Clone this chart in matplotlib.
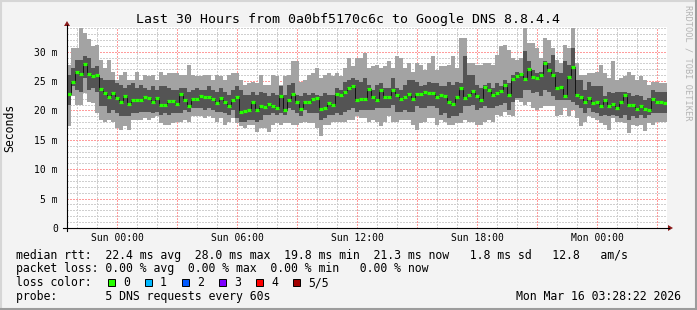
import numpy as np
import pandas as pd
import matplotlib
matplotlib.use('Agg')
import matplotlib.pyplot as plt
import matplotlib.dates as mdates
from matplotlib.lines import Line2D
from matplotlib.patches import Rectangle, Polygon
from matplotlib.ticker import MultipleLocator, FuncFormatter

plt.rcParams['font.family'] = 'DejaVu Sans Mono'

# 150 bins of 12 minutes, Sat 21:30 -> Mon 03:30
edges = pd.date_range('2026-03-14 21:30', periods=151, freq='12min')

# median rtt per bin (ms)
median = [22.8, 24.9, 26.5, 26.2, 27.9, 26.2, 25.8, 26.0, 23.6, 23.0, 22.3, 23.0, 22.1, 21.4, 22.5,
          21.1, 21.8, 21.8, 21.8, 22.3, 22.2, 21.4, 22.2, 20.9, 21.0,
          21.6, 21.6, 21.1, 22.8, 21.8, 20.8, 21.9, 22.0, 22.4, 22.3, 22.3, 22.0, 21.3, 22.2, 21.4,
          20.8, 21.8, 22.3, 19.8, 19.9, 20.1, 21.4, 20.1, 20.8,
          20.6, 21.1, 20.8, 20.5, 22.5, 20.1, 21.8, 22.8, 21.4, 20.3, 21.5, 21.4, 22.0, 22.2, 20.2,
          20.4, 21.3, 20.9, 22.8, 22.6, 23.1, 23.8, 24.1, 21.8, 22.0,
          21.9, 23.6, 22.3, 21.8, 23.4, 22.3, 22.3, 23.4, 22.6, 21.9, 22.3, 22.8, 21.9, 22.8, 22.8,
          23.2, 22.9, 23.0, 22.3, 22.6, 22.4, 21.5, 21.1, 22.3, 23.9,
          22.2, 22.6, 23.3, 22.4, 21.7, 24.0, 23.4, 22.6, 23.0, 23.3, 24.3, 22.6, 25.4, 25.9, 26.2,
          25.3, 27.0, 25.7, 25.6, 26.0, 28.0, 26.9, 26.0, 23.8, 24.0,
          22.5, 25.7, 27.4, 22.6, 22.3, 21.4, 22.2, 21.3, 21.5, 20.8, 21.8, 20.8, 21.1, 20.5, 21.4,
          22.6, 20.9, 21.0, 20.2, 20.8, 20.3, 20.1, 22.0, 21.5, 21.4, 21.3]

# inner smoke (dark grey)
dark_hi = [26.1, 27.2, 28.6, 28.6, 29.2, 28.9, 27.2, 27.5, 25.5, 25.2, 25.2, 25.2, 24.7, 24.4, 23.8,
           24.4, 24.7, 23.8, 24.4, 23.8, 23.5, 24.1, 23.5, 24.1, 24.1,
           23.8, 23.5, 23.5, 23.8, 23.8, 23.2, 23.5, 23.8, 23.5, 23.5, 24.1, 23.5, 23.2, 23.8, 23.2,
           22.7, 23.5, 24.1, 23.5, 22.7, 22.7, 23.2, 22.7, 23.2,
           23.0, 22.4, 23.0, 22.7, 24.1, 22.7, 24.4, 24.7, 22.7, 22.4, 23.0, 22.7, 23.0, 22.7, 22.4,
           23.0, 22.7, 22.7, 23.8, 23.5, 24.9, 25.2, 25.5, 25.2, 24.9,
           25.5, 24.4, 23.5, 24.4, 24.7, 23.8, 23.8, 25.5, 23.8, 23.5, 24.4, 25.2, 25.2, 24.9, 24.1,
           24.4, 24.9, 24.7, 24.7, 24.1, 24.1, 24.9, 24.4, 24.9, 24.7,
           29.2, 26.1, 26.1, 24.4, 23.8, 24.4, 24.7, 23.8, 24.7, 24.1, 25.2, 24.7, 26.1, 26.6, 26.4,
           30.1, 28.4, 26.9, 26.4, 26.6, 28.4, 28.1, 29.5, 26.6, 26.4,
           28.4, 27.8, 30.6, 25.2, 25.2, 23.5, 24.9, 24.1, 24.1, 24.1, 22.4, 23.2, 23.0, 23.2, 23.2,
           23.2, 23.0, 22.4, 22.7, 22.4, 21.8, 22.1, 23.5, 23.2, 23.2, 23.2]
dark_lo = [21.0, 24.1, 23.5, 23.2, 25.5, 23.5, 23.8, 23.2, 20.7, 20.7, 19.5, 20.1, 19.5, 19.0, 19.0,
           19.0, 19.5, 19.5, 19.8, 19.8, 19.8, 19.5, 19.8, 19.3, 19.5,
           19.3, 19.5, 19.5, 19.5, 20.1, 19.8, 20.4, 20.4, 20.4, 20.1, 20.4, 20.1, 19.8, 19.8, 19.5,
           19.3, 20.1, 18.7, 18.1, 18.1, 18.4, 18.4, 18.1, 18.4,
           19.3, 19.3, 19.5, 19.3, 19.5, 19.3, 20.4, 20.1, 19.5, 19.0, 20.1, 19.5, 19.5, 19.5, 18.4,
           18.7, 19.3, 19.3, 19.5, 19.3, 19.8, 20.1, 20.4, 19.8, 20.1,
           20.1, 20.1, 20.1, 20.4, 20.4, 20.4, 20.4, 21.0, 19.8, 19.8, 20.1, 19.8, 19.8, 20.7, 20.4,
           20.4, 20.7, 20.7, 20.4, 19.3, 19.5, 18.7, 19.0, 19.0, 19.5,
           20.7, 20.7, 21.0, 20.1, 20.4, 20.7, 20.4, 20.4, 20.7, 21.0, 21.3, 20.1, 21.5, 22.1, 22.1,
           23.5, 23.5, 23.0, 23.2, 22.4, 23.5, 23.2, 22.4, 21.8, 21.8,
           21.8, 21.8, 21.5, 21.0, 20.4, 19.5, 20.4, 19.8, 19.5, 19.0, 19.3, 19.0, 19.3, 19.0, 18.7,
           19.3, 18.4, 19.0, 18.7, 19.3, 18.7, 19.3, 19.5, 19.5, 19.5, 19.5]

# outer smoke (light grey)
light_hi = [27.8, 30.6, 30.7, 34.0, 33.2, 32.2, 30.9, 31.1, 28.6, 27.2, 28.6, 26.6, 25.2, 26.1, 26.6,
            25.2, 25.2, 26.6, 25.2, 26.1, 25.8, 26.1, 25.2, 26.6, 26.1,
            26.4, 26.4, 26.4, 26.1, 26.1, 27.8, 26.1, 25.8, 25.8, 26.1, 26.1, 25.2, 26.1, 25.8, 25.2,
            26.1, 26.4, 26.4, 25.2, 24.4, 24.7, 24.9, 24.7, 26.1,
            24.4, 24.4, 26.1, 25.8, 24.4, 25.8, 26.1, 28.4, 28.4, 24.9, 25.2, 26.1, 26.4, 27.2, 25.5,
            26.1, 26.4, 25.8, 26.4, 25.8, 27.2, 28.9, 27.5, 28.9, 28.9,
            29.8, 27.2, 27.5, 27.8, 27.2, 27.5, 28.4, 27.2, 29.2, 28.9, 27.2, 28.1, 26.6, 28.1, 27.8,
            26.9, 28.1, 29.2, 26.9, 27.5, 27.5, 27.8, 29.2, 27.2, 32.3,
            32.3, 28.1, 28.1, 27.8, 27.8, 28.1, 28.1, 27.8, 29.5, 30.9, 31.2, 30.3, 28.9, 28.6, 28.9,
            34.0, 31.5, 31.5, 30.6, 28.9, 32.3, 32.0, 30.6, 28.6, 28.1,
            31.2, 30.6, 34.0, 28.1, 26.1, 26.1, 26.4, 26.4, 26.6, 27.8, 26.4, 25.5, 28.4, 25.2, 25.5,
            25.8, 26.6, 26.1, 25.2, 25.8, 25.2, 24.4, 24.9, 24.9, 24.7, 24.7]
light_lo = [17.3, 22.4, 21.0, 21.0, 23.0, 21.5, 21.3, 19.5, 18.4, 18.1, 18.4, 18.1, 17.0, 16.7, 17.3,
            16.7, 18.4, 18.4, 18.4, 18.7, 18.4, 18.7, 19.0, 17.8, 17.6,
            17.6, 17.8, 18.1, 18.1, 18.4, 18.1, 19.0, 19.0, 19.0, 18.7, 19.0, 18.7, 18.1, 18.7, 17.6,
            18.1, 18.7, 17.8, 17.3, 17.0, 17.6, 17.6, 16.4, 17.0,
            17.0, 16.4, 17.6, 17.8, 17.6, 17.8, 17.8, 17.6, 17.6, 17.8, 18.1, 17.8, 17.8, 17.0, 15.6,
            17.6, 17.6, 18.1, 18.1, 18.1, 18.1, 18.4, 18.4, 19.0, 18.7,
            18.7, 18.1, 18.4, 18.1, 17.3, 18.1, 19.0, 18.1, 18.1, 18.4, 18.4, 18.4, 17.6, 16.7, 17.8,
            18.1, 18.7, 18.7, 17.6, 18.4, 18.1, 17.6, 17.6, 17.8, 17.8,
            18.4, 18.1, 18.1, 17.6, 17.6, 18.1, 18.4, 18.1, 19.3, 19.0, 19.8, 19.3, 19.0, 21.8, 21.5,
            21.0, 21.5, 20.4, 20.1, 20.4, 20.7, 20.7, 20.7, 19.0, 19.3,
            20.4, 19.0, 20.1, 18.7, 17.3, 18.1, 19.0, 18.7, 18.4, 17.8, 17.6, 16.7, 18.7, 18.1, 18.1,
            17.8, 16.1, 17.6, 17.3, 17.6, 16.5, 17.8, 17.6, 18.1, 18.1, 18.1]

y_ticks = [0, 5, 10, 15, 20, 25, 30]
title = 'Last 30 Hours from 0a0bf5170c6c to Google DNS 8.8.4.4'
legend_rows = ['median rtt:  22.4 ms avg  28.0 ms max  19.8 ms min  21.3 ms now   1.8 ms sd   12.8   am/s',
               'packet loss: 0.00 % avg  0.00 % max  0.00 % min   0.00 % now']
loss_labels = ['0', '1', '2', '3', '4', '5/5']
loss_colors = ['#26ff00', '#00b8ff', '#0059ff', '#7e00ff', '#ff0000', '#a10000']
probe_row = 'probe:       5 DNS requests every 60s'
stamp = 'Mon Mar 16 03:28:22 2026'

W, H = 697, 310
def fx(px):
    return px / W
def fy(py):
    return 1 - py / H

fig = plt.figure(figsize=(W / 100, H / 100), dpi=100, facecolor='#f3f3f3')
ax = fig.add_axes([fx(67), fy(228), fx(667) - fx(67), fy(27) - fy(228)])
ax.set_facecolor('white')

x = mdates.date2num(edges.to_pydatetime())
def ext(v):
    return np.append(v, v[-1])

ax.fill_between(x, ext(light_lo), ext(light_hi), step='post', color='#a3a3a3', lw=0,
                antialiased=False, zorder=3)
ax.fill_between(x, ext(dark_lo), ext(dark_hi), step='post', color='#545454', lw=0,
                antialiased=False, zorder=3.1)
# median line: dark risers, green loss-colour treads
ax.step(x, ext(median), where='post', color='#111111', lw=0.7, zorder=4)
ax.hlines(median, x[:-1], x[1:], colors='#26ff00', lw=2.3, zorder=5)

ax.set_xlim(x[0], x[-1])
ax.set_ylim(0, 34.2)

ax.xaxis.set_major_locator(mdates.HourLocator(byhour=range(0, 24, 3)))
ax.xaxis.set_minor_locator(mdates.HourLocator())
def xfmt(v, pos):
    d = mdates.num2date(v)
    return d.strftime('%a %H:%M') if d.hour % 6 == 0 else ''
ax.xaxis.set_major_formatter(FuncFormatter(xfmt))
ax.set_yticks(y_ticks)
ax.yaxis.set_minor_locator(MultipleLocator(1))
ax.set_yticklabels(['0' if v == 0 else '%d m' % v for v in y_ticks])

# dotted rrdtool-style grid, kept under the smoke
ax.set_axisbelow(True)
ax.grid(which='minor', color='#cfcfcf', linestyle=(0, (1, 1)), lw=1.0, antialiased=False)
ax.grid(which='major', color='#ff9c9c', linestyle=(0, (1, 1)), lw=1.0, antialiased=False)
ax.tick_params(which='both', length=0)
ax.tick_params(axis='y', pad=6.5, labelsize=7)
ax.tick_params(axis='x', pad=3.5, labelsize=7)
for s in ax.spines.values():
    s.set_visible(False)

# axes with arrows
fig.add_artist(Line2D([fx(63), fx(669)], [fy(228), fy(228)], color='black', lw=0.8))
fig.add_artist(Line2D([fx(67), fx(67)], [fy(231), fy(25)], color='black', lw=0.8))
fig.add_artist(Polygon([[fx(668), fy(225)], [fx(668), fy(231)], [fx(673), fy(228)]],
                       closed=True, color='#8b1a1a', lw=0))
fig.add_artist(Polygon([[fx(64), fy(26)], [fx(70), fy(26)], [fx(67), fy(21)]],
                       closed=True, color='#8b1a1a', lw=0))

fig.text(fx(347.5), fy(19), title, ha='center', va='center', fontsize=9.5)
fig.text(fx(10), fy(128), 'Seconds', rotation=90, ha='center', va='center', fontsize=8.3)
fig.text(fx(688), fy(5), 'RRDTOOL / TOBI OETIKER', rotation=-90, ha='center', va='top',
         fontsize=6.2, color='#b4b4b4')

fig.text(fx(16), fy(255), legend_rows[0], va='center', fontsize=8.3)
fig.text(fx(16), fy(268.5), legend_rows[1], va='center', fontsize=8.3)
fig.text(fx(16), fy(282.5), 'loss color:', va='center', fontsize=8.3)
for i, (lab, col) in enumerate(zip(loss_labels, loss_colors)):
    left = 108 + 37 * i
    fig.add_artist(Rectangle((fx(left), fy(286)), fx(7), 7 / H, facecolor=col,
                             edgecolor='black', lw=0.7))
    fig.text(fx(left + 15), fy(282.5), lab, va='center', fontsize=8.3)
fig.text(fx(16), fy(296.5), probe_row, va='center', fontsize=8.3)
fig.text(fx(681), fy(296.5), stamp, ha='right', va='center', fontsize=8.3)

# frame
fig.add_artist(Line2D([0, 1], [fy(1), fy(1)], color='#d6d6d6', lw=1.5))
fig.add_artist(Line2D([fx(1), fx(1)], [0, 1], color='#d6d6d6', lw=1.5))
fig.add_artist(Line2D([0, 1], [fy(309), fy(309)], color='#9c9c9c', lw=1.5))
fig.add_artist(Line2D([fx(696), fx(696)], [0, 1], color='#9c9c9c', lw=1.5))

fig.savefig('out.png', dpi=100, facecolor=fig.get_facecolor())
